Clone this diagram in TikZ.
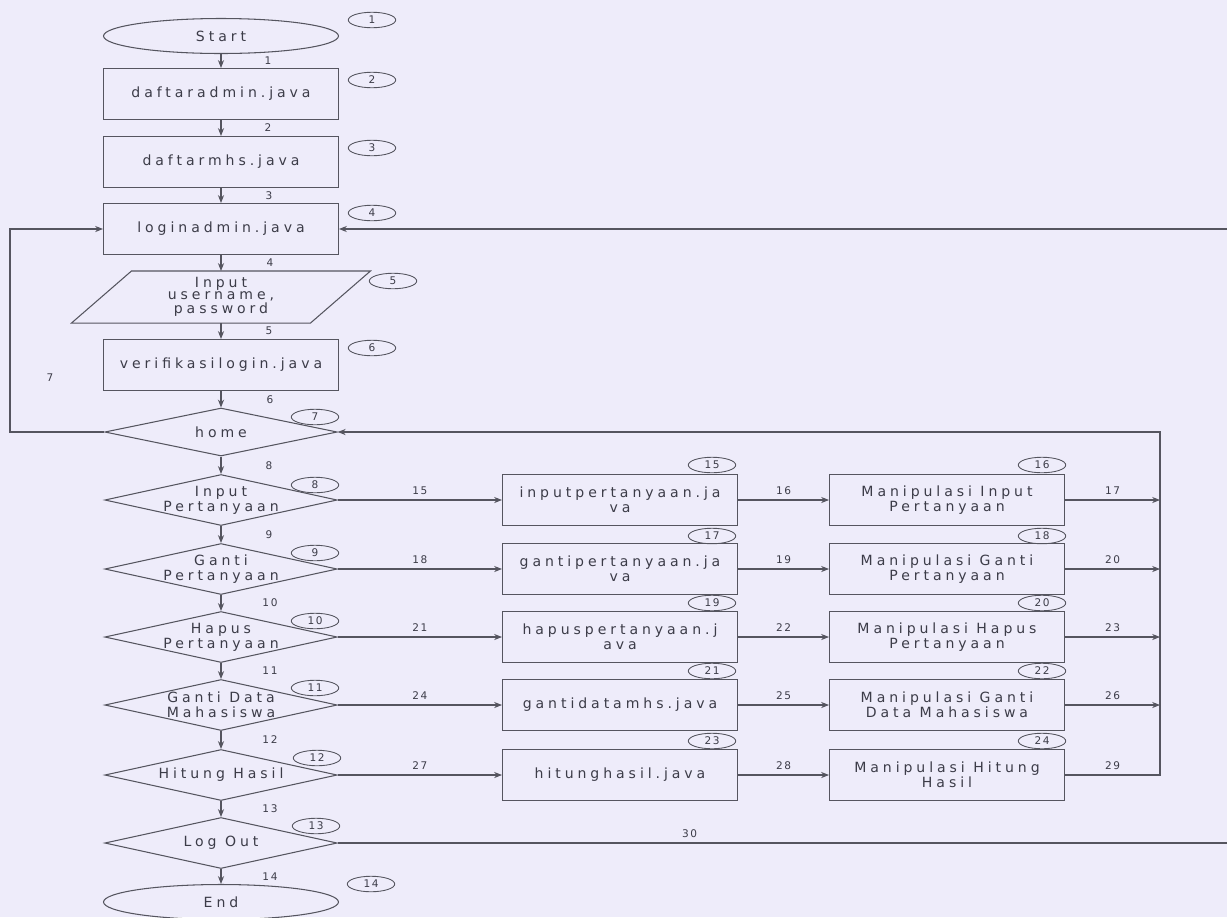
\documentclass[tikz,border=0pt]{standalone}
\usepackage{fontspec}
\usetikzlibrary{shapes.geometric,arrows.meta}
\newfontfamily\boxfam[LetterSpace=28]{DejaVu Sans}
\newfontfamily\tagfam[LetterSpace=15]{DejaVu Sans}
\newcommand\boxfont{\boxfam\fontsize{8}{8.4}\selectfont}
\newcommand\iofont{\boxfam\fontsize{8}{7}\selectfont}
\newcommand\tagfont{\tagfam\fontsize{6}{6}\selectfont}
\definecolor{bg}{RGB}{238,236,250}
\definecolor{linec}{RGB}{85,85,95}
\definecolor{textc}{RGB}{60,60,72}

\begin{document}
\begin{tikzpicture}[x=0.02cm,y=-0.02cm,
  base/.style={draw=linec, line width=0.6pt, text=textc, font=\boxfont, align=center, inner sep=0pt},
  term/.style={base, ellipse, minimum width=4.7cm, minimum height=0.7cm},
  proc/.style={base, rectangle, minimum width=4.7cm, minimum height=1.02cm},
  dec/.style={base, diamond, aspect=4.7, minimum width=4.65cm, minimum height=1.02cm},
  iobox/.style={base, draw=none, rectangle, font=\iofont, minimum width=4.7cm, minimum height=1.02cm},
  intext/.style={text=textc, font=\boxfont, align=center, inner sep=0pt},
  tag/.style={draw=linec, line width=0.5pt, ellipse, minimum width=0.95cm,
    minimum height=0.31cm, inner sep=0pt, text=textc, font=\tagfont},
  lbl/.style={text=textc, font=\tagfont, inner sep=1pt},
  arr/.style={draw=linec, line width=0.6pt, -{Stealth[length=4.5pt,width=3.5pt]}},
  wire/.style={draw=linec, line width=0.6pt}]
\useasboundingbox (0,0) rectangle (1227,917);
\fill[bg] (0,0) rectangle (1227,917);
\clip (0,0) rectangle (1227,917);

% main column
\node[term] (start) at (221,36) {Start};
\node[proc] (daftaradmin) at (221,94) {daftaradmin.java};
\node[proc] (daftarmhs) at (221,162) {daftarmhs.java};
\node[proc] (login) at (221,229) {loginadmin.java};
\node[iobox] (io) at (221,297) {Input\\username,\\password};
\draw[wire] ([xshift=-0.63cm]io.south west) -- ([xshift=0.57cm]io.north west)
  -- ([xshift=0.63cm]io.north east) -- ([xshift=-0.57cm]io.south east) -- cycle;
\node[proc] (verif) at (221,365) {verifikasilogin.java};
\node[dec, minimum height=0.96cm, label={[intext]center:home}] (home) at (221,432) {};
\node[dec, label={[intext]center:Input\\Pertanyaan}] (d1) at (221,500) {};
\node[dec, label={[intext]center:Ganti\\Pertanyaan}] (d2) at (221,569) {};
\node[dec, label={[intext]center:Hapus\\Pertanyaan}] (d3) at (221,637) {};
\node[dec, label={[intext]center:Ganti Data\\Mahasiswa}] (d4) at (221,705) {};
\node[dec, label={[intext]center:Hitung Hasil}] (d5) at (221,775) {};
\node[dec, label={[intext]center:Log Out}] (logout) at (221,843) {};
\node[term] (end) at (221,902) {End};

% java pages
\node[proc] (p1) at (620,500) {inputpertanyaan.ja\\va};
\node[proc] (p2) at (620,569) {gantipertanyaan.ja\\va};
\node[proc] (p3) at (620,637) {hapuspertanyaan.j\\ava};
\node[proc] (p4) at (620,705) {gantidatamhs.java};
\node[proc] (p5) at (620,775) {hitunghasil.java};

% data manipulation
\node[proc] (m1) at (947,500) {Manipulasi Input\\Pertanyaan};
\node[proc] (m2) at (947,569) {Manipulasi Ganti\\Pertanyaan};
\node[proc] (m3) at (947,637) {Manipulasi Hapus\\Pertanyaan};
\node[proc] (m4) at (947,705) {Manipulasi Ganti\\Data Mahasiswa};
\node[proc] (m5) at (947,775) {Manipulasi Hitung\\Hasil};

% step numbers
\node[tag] (t1) at (372,20) {1};
\node[tag] (t2) at (372,80) {2};
\node[tag] (t3) at (372,148) {3};
\node[tag] (t4) at (372,213) {4};
\node[tag] (t5) at (393,281) {5};
\node[tag] (t6) at (372,348) {6};
\node[tag] (t7) at (315,417) {7};
\node[tag] (t8) at (315,485) {8};
\node[tag] (t9) at (315,553) {9};
\node[tag] (t10) at (315,621) {10};
\node[tag] (t11) at (315,688) {11};
\node[tag] (t12) at (317,758) {12};
\node[tag] (t13) at (316,826) {13};
\node[tag] (t14) at (371,884) {14};
\node[tag] (t15) at (712,465) {15};
\node[tag] (t17) at (712,536) {17};
\node[tag] (t19) at (712,603) {19};
\node[tag] (t21) at (712,671) {21};
\node[tag] (t23) at (712,741) {23};
\node[tag] (t16) at (1042,465) {16};
\node[tag] (t18) at (1042,536) {18};
\node[tag] (t20) at (1042,603) {20};
\node[tag] (t22) at (1042,671) {22};
\node[tag] (t24) at (1042,741) {24};

% routing points
\coordinate (lb) at (10,432);
\coordinate (lt) at (10,229);
\coordinate (bb) at (1160,775);
\coordinate (bt) at (1160,432);
\coordinate (rb) at (1240,843);
\coordinate (rt) at (1240,229);

% main flow
\draw[arr] (start) -- node[lbl, xshift=0.94cm] {1} (daftaradmin);
\draw[arr] (daftaradmin) -- node[lbl, xshift=0.94cm] {2} (daftarmhs);
\draw[arr] (daftarmhs) -- node[lbl, xshift=0.96cm] {3} (login);
\draw[arr] (login) -- node[lbl, xshift=0.98cm] {4} (io);
\draw[arr] (io) -- node[lbl, xshift=0.96cm] {5} (verif);
\draw[arr] (verif) -- node[lbl, xshift=0.98cm] {6} (home);
\draw[arr] (home) -- node[lbl, xshift=0.96cm] {8} (d1);
\draw[arr] (d1) -- node[lbl, xshift=0.96cm] {9} (d2);
\draw[arr] (d2) -- node[lbl, xshift=0.98cm] {10} (d3);
\draw[arr] (d3) -- node[lbl, xshift=0.98cm] {11} (d4);
\draw[arr] (d4) -- node[lbl, xshift=0.98cm] {12} (d5);
\draw[arr] (d5) -- node[lbl, xshift=0.98cm] {13} (logout);
\draw[arr] (logout) -- node[lbl, xshift=0.98cm] {14} (end);

% back to login
\draw[arr] (home.west) -- (lb) -- node[lbl, pos=0.27, xshift=0.8cm] {7} (lt) -- (login.west);
\draw[arr] (logout.east) -- node[lbl, above=2pt, pos=0.39] {30} (rb) -- (rt) -- (login.east);

% menu rows
\draw[arr] (d1.east) -- node[lbl, above=2pt] {15} (p1.west);
\draw[arr] (p1.east) -- node[lbl, above=2pt] {16} (m1.west);
\draw[arr] (m1.east) -- node[lbl, above=2pt] {17} (m1.east -| bb);
\draw[arr] (d2.east) -- node[lbl, above=2pt] {18} (p2.west);
\draw[arr] (p2.east) -- node[lbl, above=2pt] {19} (m2.west);
\draw[arr] (m2.east) -- node[lbl, above=2pt] {20} (m2.east -| bb);
\draw[arr] (d3.east) -- node[lbl, above=2pt] {21} (p3.west);
\draw[arr] (p3.east) -- node[lbl, above=2pt] {22} (m3.west);
\draw[arr] (m3.east) -- node[lbl, above=2pt] {23} (m3.east -| bb);
\draw[arr] (d4.east) -- node[lbl, above=2pt] {24} (p4.west);
\draw[arr] (p4.east) -- node[lbl, above=2pt] {25} (m4.west);
\draw[arr] (m4.east) -- node[lbl, above=2pt] {26} (m4.east -| bb);
\draw[arr] (d5.east) -- node[lbl, above=2pt] {27} (p5.west);
\draw[arr] (p5.east) -- node[lbl, above=2pt] {28} (m5.west);
\draw[arr] (m5.east) -- node[lbl, above=2pt] {29} (bb) -- (bt) -- (home.east);
\end{tikzpicture}
\end{document}
